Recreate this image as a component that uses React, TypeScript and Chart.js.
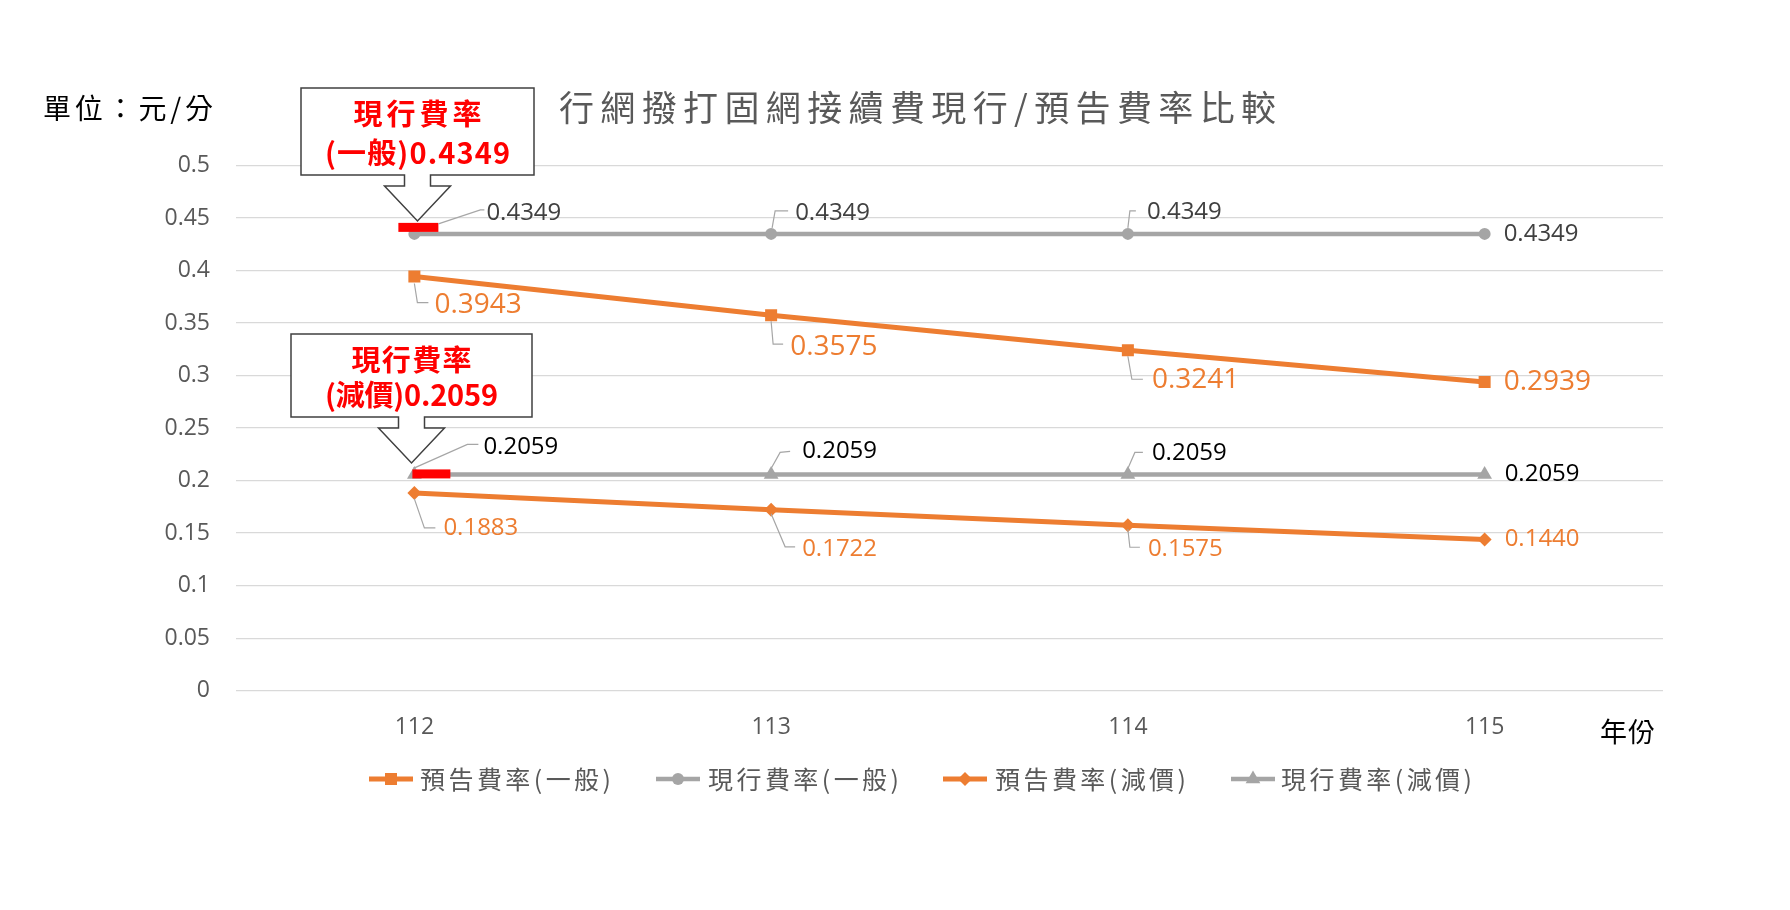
import React, { useEffect, useRef } from 'react';
import { Chart, registerables } from 'chart.js';
import { drawPoint } from 'chart.js/helpers';

Chart.register(...registerables);

// ---------- data ----------
const CATEGORIES = ['112', '113', '114', '115'];
const FORECAST_GENERAL = [0.3943, 0.3575, 0.3241, 0.2939];
const CURRENT_GENERAL = [0.4349, 0.4349, 0.4349, 0.4349];
const FORECAST_DISCOUNT = [0.1883, 0.1722, 0.1575, 0.144];
const CURRENT_DISCOUNT = [0.2059, 0.2059, 0.2059, 0.2059];
const SERIES_NAMES = ['預告費率(一般)', '現行費率(一般)', '預告費率(減價)', '現行費率(減價)'];
const Y_TICKS = [0, 0.05, 0.1, 0.15, 0.2, 0.25, 0.3, 0.35, 0.4, 0.45, 0.5];
const TITLE = '行網撥打固網接續費現行/預告費率比較';
const UNIT_LABEL = '單位：元/分';
const X_UNIT = '年份';
const CALLOUT_GENERAL = ['現行費率', '(一般)0.4349'];
const CALLOUT_DISCOUNT = ['現行費率', '(減價)0.2059'];

// ---------- styles / layout ----------
const ORANGE = '#ED7D31';
const GRAY = '#A5A5A5';
const CJK = '"Noto Sans CJK TC", "Noto Sans", sans-serif';
const NUM = '"Open Sans", "Noto Sans", sans-serif';
const ORIGIN = 8;

type Label = { dx: number; dy: number; leader?: number[][] };
const LABEL_LAYOUT: Label[][] = [
  [
    { dx: 20, dy: 29, leader: [[0, 7], [3, 26], [14, 26]] },
    { dx: 19, dy: 32, leader: [[0, 6], [2, 29], [12, 29]] },
    { dx: 24, dy: 30, leader: [[0, 6], [4, 29], [15, 29]] },
    { dx: 19, dy: 0 },
  ],
  [
    { dx: 72, dy: -21, leader: [[24, -10], [66, -24], [70, -24]] },
    { dx: 24, dy: -21, leader: [[1, -6], [4, -23], [17, -23]] },
    { dx: 19, dy: -22, leader: [[0, -6], [2, -23], [8, -23]] },
    { dx: 19, dy: 0 },
  ],
  [
    { dx: 29, dy: 35, leader: [[0, 6], [10, 35], [21, 35]] },
    { dx: 31, dy: 39, leader: [[0, 4], [14, 37], [24, 37]] },
    { dx: 20, dy: 24, leader: [[0, 4], [2, 22], [12, 22]] },
    { dx: 20, dy: 0 },
  ],
  [
    { dx: 69, dy: -27, leader: [[-1, -6], [53, -30], [64, -30]] },
    { dx: 31, dy: -23, leader: [[0, -6], [9, -22], [19, -23]] },
    { dx: 24, dy: -21, leader: [[0, -6], [7, -22], [15, -22]] },
    { dx: 20, dy: 0 },
  ],
];
const LABEL_FONT_SIZE = [28, 24, 24, 24];
const LABEL_COLOR = [ORANGE, '#404040', ORANGE, '#000000'];

const HIGHLIGHTS = [
  { dataset: 1, index: 0, x0: -16, x1: 24, y0: -11, y1: -2 },
  { dataset: 3, index: 0, x0: -2, x1: 36, y0: -5, y1: 4 },
];

const CALLOUTS = [
  { text: CALLOUT_GENERAL, x: 301, y: 88, w: 233, h: 87, lines: [{ dy: 26, w: 128 }, { dy: 65, w: 185 }] },
  { text: CALLOUT_DISCOUNT, x: 291, y: 334, w: 241, h: 83, lines: [{ dy: 26, w: 120 }, { dy: 61, w: 173 }] },
];

const LEGEND_LAYOUT = [
  { lineX: 369, textX: 420 },
  { lineX: 656, textX: 708 },
  { lineX: 943, textX: 995 },
  { lineX: 1231, textX: 1281 },
];

function fitText(ctx: CanvasRenderingContext2D, text: string, x: number, y: number, width: number) {
  (ctx as any).letterSpacing = '0px';
  const w = ctx.measureText(text).width;
  const n = Array.from(text).length;
  const ls = n > 1 ? Math.max(-2, (width - w) / (n - 1)) : 0;
  (ctx as any).letterSpacing = ls + 'px';
  ctx.textAlign = 'left';
  ctx.fillText(text, x, y);
  (ctx as any).letterSpacing = '0px';
}

const overlayPlugin = {
  id: 'overlay',
  afterDatasetsDraw(chart: any) {
    const ctx: CanvasRenderingContext2D = chart.ctx;
    ctx.save();
    // red highlight bars
    ctx.fillStyle = '#FF0000';
    HIGHLIGHTS.forEach((h) => {
      const el = chart.getDatasetMeta(h.dataset).data[h.index];
      ctx.fillRect(el.x + h.x0, el.y + h.y0, h.x1 - h.x0, h.y1 - h.y0);
    });
    // data labels with leader lines
    chart.data.datasets.forEach((ds: any, di: number) => {
      const meta = chart.getDatasetMeta(di);
      meta.data.forEach((el: any, i: number) => {
        const lay = LABEL_LAYOUT[di][i];
        if (lay.leader) {
          ctx.strokeStyle = '#A6A6A6';
          ctx.lineWidth = 1.2;
          ctx.beginPath();
          lay.leader.forEach((p, k) => {
            if (k === 0) ctx.moveTo(el.x + p[0], el.y + p[1]);
            else ctx.lineTo(el.x + p[0], el.y + p[1]);
          });
          ctx.stroke();
        }
        ctx.fillStyle = LABEL_COLOR[di];
        ctx.font = `${LABEL_FONT_SIZE[di]}px ${NUM}`;
        ctx.textAlign = 'left';
        ctx.textBaseline = 'middle';
        ctx.fillText((ds.data[i] as number).toFixed(4), el.x + lay.dx, el.y + lay.dy);
      });
    });
    ctx.restore();
  },
  afterDraw(chart: any) {
    const ctx: CanvasRenderingContext2D = chart.ctx;
    ctx.save();
    ctx.translate(-ORIGIN, -ORIGIN);
    ctx.textBaseline = 'middle';

    // title
    ctx.fillStyle = '#595959';
    ctx.font = `35px ${CJK}`;
    fitText(ctx, TITLE, 559, 108, 717);

    // unit labels
    ctx.fillStyle = '#000000';
    ctx.font = `28px ${CJK}`;
    fitText(ctx, UNIT_LABEL, 43, 108, 170);
    ctx.font = `27px ${CJK}`;
    fitText(ctx, X_UNIT, 1600, 732, 55);

    // legend
    chart.data.datasets.forEach((ds: any, i: number) => {
      const lay = LEGEND_LAYOUT[i];
      const y = 779;
      ctx.strokeStyle = ds.borderColor;
      ctx.lineWidth = ds.borderWidth;
      ctx.beginPath();
      ctx.moveTo(lay.lineX, y);
      ctx.lineTo(lay.lineX + 44, y);
      ctx.stroke();
      ctx.fillStyle = ds.borderColor;
      drawPoint(ctx, { pointStyle: ds.pointStyle, radius: ds.pointRadius, rotation: 0, borderWidth: 0 } as any, lay.lineX + 22, y);
      ctx.fillStyle = '#595959';
      ctx.font = `25px ${CJK}`;
      ctx.textBaseline = 'middle';
      fitText(ctx, SERIES_NAMES[i], lay.textX, y, 191);
    });

    // callouts
    CALLOUTS.forEach((c) => {
      const cx = c.x + c.w / 2;
      const b = c.y + c.h;
      ctx.beginPath();
      ctx.moveTo(c.x, c.y);
      ctx.lineTo(c.x + c.w, c.y);
      ctx.lineTo(c.x + c.w, b);
      ctx.lineTo(cx + 13, b);
      ctx.lineTo(cx + 13, b + 11);
      ctx.lineTo(cx + 33, b + 11);
      ctx.lineTo(cx, b + 46);
      ctx.lineTo(cx - 33, b + 11);
      ctx.lineTo(cx - 13, b + 11);
      ctx.lineTo(cx - 13, b);
      ctx.lineTo(c.x, b);
      ctx.closePath();
      ctx.fillStyle = '#FFFFFF';
      ctx.fill();
      ctx.strokeStyle = '#404040';
      ctx.lineWidth = 1.5;
      ctx.stroke();
      ctx.fillStyle = '#FF0000';
      ctx.font = `bold 29px ${CJK}`;
      c.lines.forEach((ln, k) => {
        fitText(ctx, c.text[k], cx - ln.w / 2, c.y + ln.dy, ln.w);
      });
    });
    ctx.restore();
  },
};

export default function App() {
  const ref = useRef<HTMLCanvasElement>(null);
  useEffect(() => {
    if (!ref.current) return;
    Chart.defaults.font.family = NUM;
    const chart = new Chart(ref.current, {
      type: 'line',
      data: {
        labels: CATEGORIES,
        datasets: [
          {
            label: SERIES_NAMES[0], data: FORECAST_GENERAL, borderColor: ORANGE, backgroundColor: ORANGE,
            borderWidth: 5, pointStyle: 'rect', pointRadius: 8.5, pointBorderWidth: 0, pointBackgroundColor: ORANGE,
          },
          {
            label: SERIES_NAMES[1], data: CURRENT_GENERAL, borderColor: GRAY, backgroundColor: GRAY,
            borderWidth: 4.5, pointStyle: 'circle', pointRadius: 6, pointBorderWidth: 0, pointBackgroundColor: GRAY,
          },
          {
            label: SERIES_NAMES[2], data: FORECAST_DISCOUNT, borderColor: ORANGE, backgroundColor: ORANGE,
            borderWidth: 5, pointStyle: 'rectRot', pointRadius: 7, pointBorderWidth: 0, pointBackgroundColor: ORANGE,
          },
          {
            label: SERIES_NAMES[3], data: CURRENT_DISCOUNT, borderColor: GRAY, backgroundColor: GRAY,
            borderWidth: 4.5, pointStyle: 'triangle', pointRadius: 8.5, pointBorderWidth: 0, pointBackgroundColor: GRAY,
          },
        ] as any,
      },
      options: {
        animation: false,
        responsive: false,
        layout: { padding: { left: 128, right: 119, top: 157.5, bottom: 151.3 } },
        plugins: { legend: { display: false }, tooltip: { enabled: false }, title: { display: false } },
        scales: {
          x: {
            type: 'category',
            offset: true,
            grid: { display: false, drawTicks: false },
            border: { display: false },
            ticks: { color: '#595959', font: { size: 23, family: NUM }, padding: 22.5 },
            afterFit: (s: any) => { s.height = 60; },
          },
          y: {
            min: 0,
            max: 0.5,
            grid: { color: '#D9D9D9', lineWidth: 1.3, drawTicks: false },
            border: { display: false },
            afterBuildTicks: (s: any) => { s.ticks = Y_TICKS.map((v) => ({ value: v })); },
            ticks: {
              color: '#595959',
              font: { size: 23, family: NUM },
              padding: 26,
              callback: (v: any) => String(Number(Number(v).toFixed(2))),
            },
            afterFit: (s: any) => { s.width = 100; },
          },
        },
      } as any,
      plugins: [overlayPlugin],
    });
    return () => chart.destroy();
  }, []);
  return (
    <div style={{ width: 1774, height: 894, background: '#fff' }}>
      <canvas ref={ref} width={1774} height={894} style={{ display: 'block' }} />
    </div>
  );
}
